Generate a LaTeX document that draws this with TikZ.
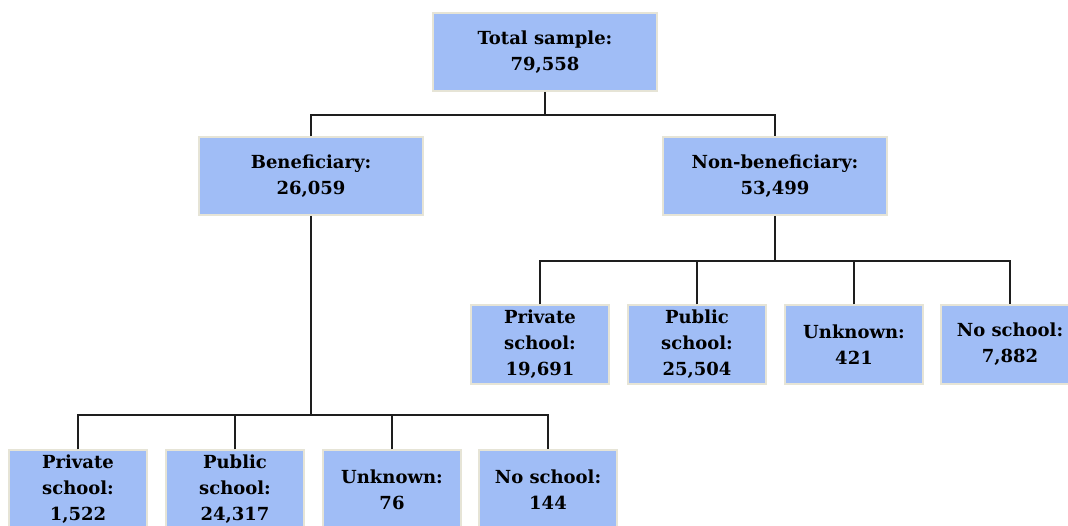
\documentclass[tikz,border=0pt]{standalone}
\usepackage{fontspec}
\setmainfont{DejaVu Serif}
\definecolor{boxblue}{RGB}{160,189,246}
\definecolor{boxedge}{RGB}{230,228,214}
\definecolor{linkgray}{RGB}{30,30,30}
\tikzset{
  bigbox/.style={draw=boxedge, line width=1.5pt, fill=boxblue, minimum width=224pt,
    minimum height=78pt, inner sep=0pt, align=center,
    font=\bfseries\fontsize{18}{26}\selectfont},
  smallbox/.style={bigbox, minimum width=138pt, minimum height=79pt},
  link/.style={draw=linkgray, line width=2pt}
}
\begin{document}
\begin{tikzpicture}[x=1pt,y=-1pt]
\clip (0,0) rectangle (1068,525);
% top level
\node[bigbox] (total) at (545,52) {Total sample:\\79,558};
\node[bigbox] (benef) at (311,176) {Beneficiary:\\26,059};
\node[bigbox] (nonben) at (775,176) {Non-beneficiary:\\53,499};
% non-beneficiary split
\node[smallbox] (npriv) at (540,344.5) {Private\\school:\\19,691};
\node[smallbox] (npub) at (697,344.5) {Public\\school:\\25,504};
\node[smallbox] (nunk) at (854,344.5) {Unknown:\\421};
\node[smallbox] (nnone) at (1010,344.5) {No school:\\7,882};
% beneficiary split
\node[smallbox] (bpriv) at (78,489.5) {Private\\school:\\1,522};
\node[smallbox] (bpub) at (235,489.5) {Public\\school:\\24,317};
\node[smallbox] (bunk) at (392,489.5) {Unknown:\\76};
\node[smallbox] (bnone) at (548,489.5) {No school:\\144};
% junctions
\coordinate (j1) at (545,115);
\coordinate (j2) at (775,261);
\coordinate (j3) at (311,415);
% connectors
\draw[link] (total) -- (j1);
\draw[link] (benef.north) |- (j1) -| (nonben.north);
\draw[link] (nonben) -- (j2);
\draw[link] (npriv.north) |- (j2) -| (nnone.north);
\draw[link] (npub.north) -- (npub.north |- j2);
\draw[link] (nunk.north) -- (nunk.north |- j2);
\draw[link] (benef) -- (j3);
\draw[link] (bpriv.north) |- (j3) -| (bnone.north);
\draw[link] (bpub.north) -- (bpub.north |- j3);
\draw[link] (bunk.north) -- (bunk.north |- j3);
\end{tikzpicture}
\end{document}
